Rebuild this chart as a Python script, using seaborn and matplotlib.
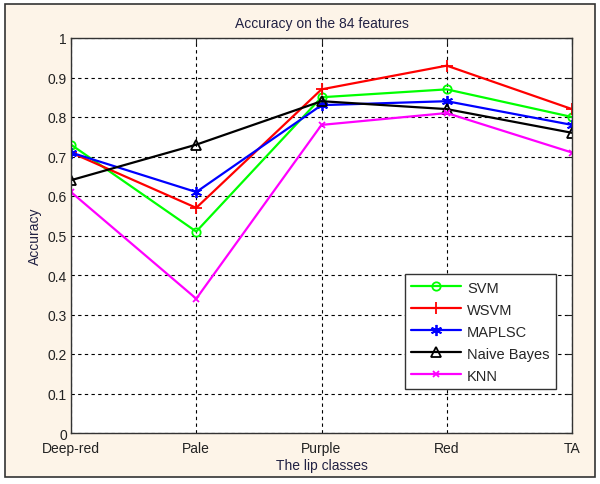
import pandas as pd
import matplotlib
matplotlib.use("Agg")
import matplotlib.pyplot as plt
import seaborn as sns
from matplotlib.patches import Rectangle

# lip classes on the x axis
classes = ["Deep-red", "Pale", "Purple", "Red", "TA"]

# accuracy per classifier
svm = [0.73, 0.51, 0.85, 0.87, 0.80]
wsvm = [0.71, 0.57, 0.87, 0.93, 0.82]
maplsc = [0.71, 0.61, 0.83, 0.84, 0.78]
naive_bayes = [0.64, 0.73, 0.84, 0.82, 0.76]
knn = [0.61, 0.34, 0.78, 0.81, 0.71]

y_ticks = [0, 0.1, 0.2, 0.3, 0.4, 0.5, 0.6, 0.7, 0.8, 0.9, 1]
y_tick_labels = ["0", "0.1", "0.2", "0.3", "0.4", "0.5", "0.6", "0.7", "0.8", "0.9", "1"]

series = [
    ("SVM", svm, "#00ff00", "o", 6),
    ("WSVM", wsvm, "#ff0000", "+", 9),
    ("MAPLSC", maplsc, "#0000ff", (6, 2, 0), 8),
    ("Naive Bayes", naive_bayes, "#000000", "^", 7),
    ("KNN", knn, "#ff00ff", "x", 5),
]

sns.set_style("white")
plt.rcParams["font.family"] = ["Liberation Sans", "DejaVu Sans"]
plt.rcParams["font.size"] = 10

fig = plt.figure(figsize=(6, 4.85), dpi=100)
fig.patch.set_facecolor("white")
# beige panel with dark frame, like the MATLAB export
fig.add_artist(Rectangle((5 / 600, 7 / 485), 590 / 600, 473 / 485, transform=fig.transFigure,
                         facecolor="#fdf4e8", edgecolor="#333333", linewidth=1.2, zorder=0))

ax = fig.add_axes([71 / 600, 1 - 434 / 485, 501 / 600, 395 / 485])
ax.set_facecolor("white")

for name, vals, color, marker, ms in series:
    df = pd.DataFrame({"lip class": classes, "Accuracy": vals})
    sns.lineplot(data=df, x="lip class", y="Accuracy", ax=ax, color=color, marker=marker,
                 markersize=ms, markerfacecolor="none", markeredgecolor=color,
                 markeredgewidth=1.3, linewidth=1.6, label=name, sort=False)

ax.set_xlim(0, len(classes) - 1)
ax.set_ylim(0, 1)
ax.set_xticks(range(len(classes)))
ax.set_xticklabels(classes)
ax.set_yticks(y_ticks)
ax.set_yticklabels(y_tick_labels)
ax.grid(True, color="black", linestyle=(0, (3, 3)), linewidth=0.8)
ax.tick_params(direction="in", length=4, top=True, right=True, labelsize=10, colors="#222222",
               pad=3)
ax.tick_params(axis="x", pad=6)
for s in ax.spines.values():
    s.set_color("#333333")
    s.set_linewidth(1.0)

ax.set_title("Accuracy on the 84 features", fontsize=10, color="#222244", pad=8)
ax.set_xlabel("The lip classes", fontsize=10, color="#222244", labelpad=2)
ax.set_ylabel("Accuracy", fontsize=10, color="#222244", labelpad=4)

leg = ax.legend(loc="lower right", bbox_to_anchor=(0.968, 0.111), borderaxespad=0,
                fancybox=False, framealpha=1, edgecolor="#333333", fontsize=10.5,
                handlelength=3.4, borderpad=0.45, labelspacing=0.55, handletextpad=0.4)
leg.get_frame().set_linewidth(1.0)

fig.savefig("out.png", dpi=100)
